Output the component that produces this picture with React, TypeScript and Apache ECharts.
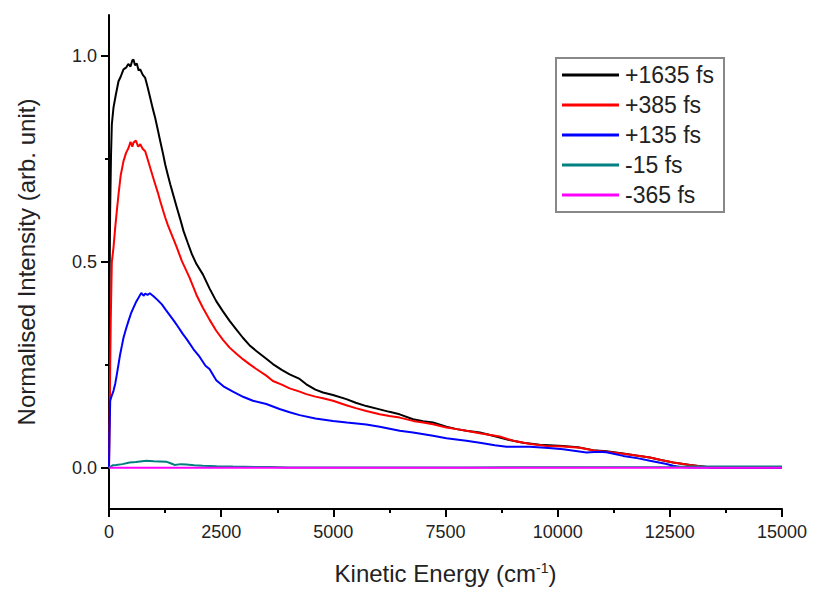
import React, { useEffect, useRef } from "react";
import * as echarts from "echarts";

const seriesNames = ["+1635 fs", "+385 fs", "+135 fs", "-15 fs", "-365 fs"];
const seriesColors = ["#000000", "#ff0000", "#0000ff", "#008080", "#ff00ff"];

const xTicks = [0, 2500, 5000, 7500, 10000, 12500, 15000];
const xMinorTicks = [1250, 3750, 6250, 8750, 11250, 13750];
const yLabelValues = [0, 0.5, 1.0];
const yMinorValues = [0.25, 0.75];

const black1635: [number, number][] = [
  [0, 0], [12, 0.42], [25, 0.62], [45, 0.76], [63, 0.834], [100, 0.875], [150, 0.905], [212, 0.939],
  [260, 0.95], [323, 0.968], [380, 0.972], [430, 0.981], [480, 0.975], [520, 0.99], [546, 0.992],
  [580, 0.978], [620, 0.982], [660, 0.965], [696, 0.968], [750, 0.955], [807, 0.947], [860, 0.925],
  [918, 0.899], [970, 0.875], [1030, 0.85], [1090, 0.82], [1141, 0.794], [1200, 0.765], [1253, 0.737],
  [1310, 0.712], [1365, 0.689], [1440, 0.66], [1513, 0.632], [1590, 0.603], [1662, 0.575], [1750, 0.548],
  [1847, 0.519], [1950, 0.495], [2092, 0.47], [2240, 0.436], [2390, 0.405], [2540, 0.38], [2688, 0.357],
  [2840, 0.336], [2984, 0.316], [3130, 0.298], [3283, 0.284], [3506, 0.265], [3653, 0.252], [3850, 0.238],
  [4026, 0.227], [4249, 0.216], [4398, 0.203], [4600, 0.19], [4769, 0.183], [4992, 0.177], [5290, 0.167],
  [5500, 0.158], [5735, 0.15], [6033, 0.142], [6250, 0.136], [6478, 0.13], [6776, 0.118], [7000, 0.113],
  [7221, 0.11], [7520, 0.1], [7750, 0.094], [7964, 0.09], [8264, 0.086], [8558, 0.078], [8900, 0.068],
  [9230, 0.061], [9600, 0.056], [10122, 0.053], [10450, 0.05], [10791, 0.043], [11088, 0.04], [11460, 0.035],
  [11750, 0.03], [12055, 0.025], [12300, 0.019], [12576, 0.013], [12948, 0.007], [13320, 0.002],
  [13500, 0.001], [14000, 0.001], [15000, 0.001],
];

const red385: [number, number][] = [
  [0, 0], [15, 0.12], [27, 0.25], [40, 0.365], [63, 0.5], [100, 0.535], [138, 0.583], [175, 0.625],
  [212, 0.664], [260, 0.71], [323, 0.745], [380, 0.765], [435, 0.777], [480, 0.792], [520, 0.78],
  [546, 0.79], [600, 0.795], [650, 0.78], [696, 0.786], [750, 0.775], [807, 0.769], [860, 0.75],
  [918, 0.729], [970, 0.71], [1030, 0.689], [1090, 0.668], [1141, 0.648], [1200, 0.627], [1253, 0.608],
  [1310, 0.59], [1365, 0.575], [1440, 0.555], [1513, 0.535], [1625, 0.502], [1795, 0.462], [1950, 0.42],
  [2092, 0.389], [2240, 0.36], [2390, 0.333], [2540, 0.311], [2688, 0.292], [2840, 0.277], [2984, 0.264],
  [3130, 0.252], [3283, 0.24], [3506, 0.224], [3653, 0.211], [3850, 0.202], [4026, 0.193], [4249, 0.185],
  [4398, 0.179], [4600, 0.173], [4769, 0.169], [4992, 0.163], [5290, 0.152], [5500, 0.145], [5735, 0.138],
  [6033, 0.13], [6250, 0.126], [6478, 0.122], [6776, 0.114], [7000, 0.11], [7221, 0.106], [7520, 0.098],
  [7750, 0.094], [7964, 0.09], [8264, 0.084], [8707, 0.076], [9007, 0.066], [9400, 0.058], [9750, 0.053],
  [10122, 0.052], [10494, 0.049], [10800, 0.042], [11088, 0.039], [11460, 0.034], [11750, 0.03],
  [12055, 0.025], [12300, 0.019], [12576, 0.013], [12948, 0.007], [13320, 0.002], [13500, 0.001], [15000, 0.001],
];

const blue135: [number, number][] = [
  [0, 0], [10, 0.08], [27, 0.163], [60, 0.175], [100, 0.187], [140, 0.205], [175, 0.227], [210, 0.25],
  [249, 0.276], [290, 0.298], [323, 0.316], [380, 0.338], [435, 0.357], [490, 0.375], [546, 0.389],
  [600, 0.402], [658, 0.413], [720, 0.425], [770, 0.418], [807, 0.423], [860, 0.42], [910, 0.424],
  [992, 0.417], [1080, 0.408], [1178, 0.397], [1270, 0.383], [1365, 0.369], [1460, 0.355], [1550, 0.341],
  [1640, 0.326], [1735, 0.312], [1884, 0.288], [2018, 0.27], [2150, 0.248], [2240, 0.24], [2390, 0.213],
  [2550, 0.198], [2762, 0.185], [3000, 0.172], [3208, 0.163], [3506, 0.155], [3800, 0.143], [4026, 0.135],
  [4249, 0.128], [4600, 0.12], [4992, 0.114], [5300, 0.11], [5735, 0.105], [6033, 0.1], [6478, 0.09],
  [6776, 0.086], [7221, 0.078], [7520, 0.072], [7964, 0.066], [8264, 0.061], [8600, 0.055], [8860, 0.051],
  [9379, 0.051], [9800, 0.048], [10122, 0.045], [10642, 0.037], [10900, 0.039], [11088, 0.038],
  [11460, 0.029], [11800, 0.023], [12055, 0.017], [12400, 0.01], [12576, 0.005], [12725, 0.002],
  [13000, 0.001], [15000, 0.001],
];

const teal15: [number, number][] = [
  [0, 0], [80, 0.006], [160, 0.007], [300, 0.009], [457, 0.013], [600, 0.014], [830, 0.017], [1000, 0.016],
  [1275, 0.015], [1400, 0.01], [1460, 0.007], [1600, 0.009], [1721, 0.008], [1900, 0.006], [2090, 0.005],
  [2400, 0.004], [2760, 0.003], [3280, 0.002], [3600, 0.002], [4000, 0.001], [8000, 0.001], [12500, 0.002],
  [13000, 0.003], [15000, 0.003],
];

const magenta365: [number, number][] = [
  [0, 0], [15000, 0],
];

const seriesData = [black1635, red385, blue135, teal15, magenta365];

const FONT = "'Liberation Sans', Arial, sans-serif";
const TEXT_COLOR = "#222";
const tickLine = { color: "#000", width: 2 };

export default function App() {
  const ref = useRef<HTMLDivElement>(null);
  useEffect(() => {
    if (!ref.current) return;
    const chart = echarts.init(ref.current, undefined, { renderer: "svg" });
    const option: any = {
      animation: false,
      backgroundColor: "#ffffff",
      grid: { left: 109, right: 31, top: 15, bottom: 80, containLabel: false },
      legend: {
        orient: "vertical",
        left: 556,
        top: 58,
        padding: [5, 5, 5, 6],
        borderColor: "#888888",
        borderWidth: 2,
        itemWidth: 57,
        itemHeight: 3,
        itemGap: 6,
        icon: "rect",
        data: seriesNames,
        textStyle: { fontFamily: FONT, fontSize: 23, color: TEXT_COLOR, lineHeight: 24, width: 94, padding: [0, 0, 0, 1] },
      },
      xAxis: [
        {
          type: "value",
          min: xTicks[0],
          max: xTicks[xTicks.length - 1],
          interval: 2500,
          position: "bottom",
          name: "Kinetic Energy (cm{sup|-1})",
          nameLocation: "middle",
          nameGap: 52,
          nameTextStyle: {
            fontFamily: FONT,
            fontSize: 24,
            color: TEXT_COLOR,
            rich: { sup: { fontFamily: FONT, fontSize: 14, color: TEXT_COLOR, verticalAlign: "top", padding: [0, 0, 10, 0] } },
          },
          axisLine: { show: true, onZero: false, lineStyle: { color: "#000", width: 2 } },
          axisTick: { show: true, inside: false, length: 8, lineStyle: tickLine },
          splitLine: { show: false },
          axisLabel: {
            fontFamily: FONT,
            fontSize: 18,
            color: TEXT_COLOR,
            margin: 14,
            formatter: (v: number) => String(v),
          },
          z: 3,
        },
        {
          type: "value",
          min: xTicks[0],
          max: xTicks[xTicks.length - 1],
          position: "bottom",
          axisLine: { show: false, onZero: false },
          axisTick: { show: true, inside: false, length: 4, customValues: xMinorTicks, lineStyle: tickLine },
          axisLabel: { show: false, customValues: xMinorTicks },
          splitLine: { show: false },
          z: 2,
        },
      ],
      yAxis: [
        {
          type: "value",
          min: -0.1,
          max: 1.1,
          position: "left",
          name: "Normalised Intensity (arb. unit)",
          nameLocation: "middle",
          nameGap: 71,
          nameTextStyle: { fontFamily: FONT, fontSize: 24, color: TEXT_COLOR },
          axisLine: { show: true, onZero: false, lineStyle: { color: "#000", width: 2 } },
          axisTick: { show: true, length: 8, customValues: yLabelValues, lineStyle: tickLine },
          splitLine: { show: false },
          axisLabel: {
            fontFamily: FONT,
            fontSize: 18,
            color: TEXT_COLOR,
            margin: 12,
            customValues: yLabelValues,
            formatter: (v: number) => v.toFixed(1),
          },
          z: 3,
        },
        {
          type: "value",
          min: -0.1,
          max: 1.1,
          position: "left",
          axisLine: { show: false, onZero: false },
          axisTick: { show: true, length: 4, customValues: yMinorValues, lineStyle: tickLine },
          axisLabel: { show: false, customValues: yMinorValues },
          splitLine: { show: false },
          z: 2,
        },
      ],
      series: seriesNames.map((name, i) => ({
        name,
        type: "line",
        data: seriesData[i],
        showSymbol: false,
        symbol: "none",
        color: seriesColors[i],
        lineStyle: { color: seriesColors[i], width: 2 },
        xAxisIndex: 0,
        yAxisIndex: 0,
      })),
    };
    chart.setOption(option);
    return () => chart.dispose();
  }, []);
  return (
    <div
      ref={ref}
      style={{ position: "fixed", left: 0, top: 0, width: 813, height: 590, background: "#fff" }}
    />
  );
}
